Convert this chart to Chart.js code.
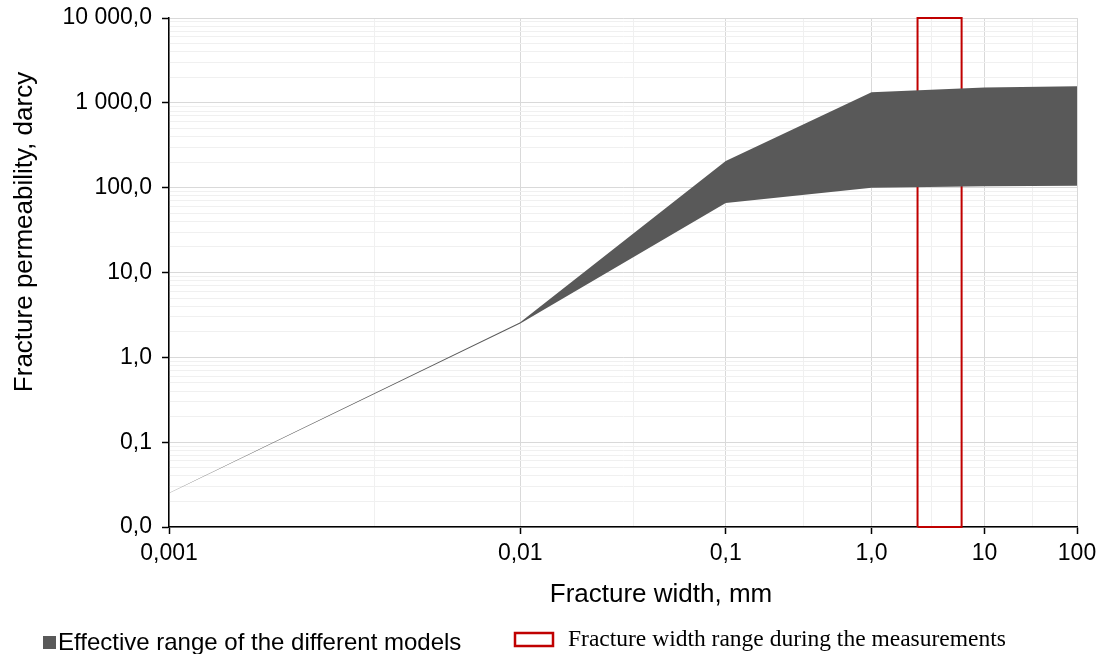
<!DOCTYPE html>
<html>
<head>
<meta charset="utf-8">
<title>Fracture permeability</title>
<script src="https://cdn.jsdelivr.net/npm/chart.js@4.4.0/dist/chart.umd.min.js"></script>
<style>
	html, body { margin: 0; padding: 0; background: #ffffff; }
	#wrap { width: 1105px; height: 654px; }
</style>
</head>
<body>
<div id="wrap"><canvas id="permChart" width="1105" height="654"></canvas></div>
<script>
// Fracture width (mm) and the permeability envelope of the models (darcy)
const widthsMm = [0.001, 0.01, 0.1, 1, 10, 100];
const permUpper = [0.0252, 2.6, 206, 1330, 1520, 1570];
const permLower = [0.025, 2.5, 66, 100, 104, 105];

// Fracture width range during the measurements (mm)
const measuredWidth = [2.4, 6.0];

// Axis labels
const xTickLabels = ["0,001", "0,01", "0,1", "1,0", "10", "100"];
const yTickLabels = ["0,0", "0,1", "1,0", "10,0", "100,0", "1 000,0", "10 000,0"];

const yMin = 0.01;
const yMax = 10000;

const SANS = '"Liberation Sans", Arial, sans-serif';
const SERIF = '"Liberation Serif", "Times New Roman", serif';

/**
 * The width axis is a log axis over the decade number (1 = 0,001 mm ... 6 = 100 mm).
 */
function toAxis(w) {
	return Math.log10(w) + 4;
}

function nearInt(v) {
	return Math.abs(v - Math.round(v)) < 1e-6;
}

function isMajorY(v) {
	return nearInt(Math.log10(v));
}

const lowerPts = widthsMm.map((w, i) => ({ x: toAxis(w), y: permLower[i] }));
const upperPts = widthsMm.map((w, i) => ({ x: toAxis(w), y: permUpper[i] }));

const [wFrom, wTo] = measuredWidth;
const rectPts = [
	{ x: toAxis(wFrom), y: yMin },
	{ x: toAxis(wFrom), y: yMax },
	{ x: toAxis(wTo), y: yMax },
	{ x: toAxis(wTo), y: yMin },
	{ x: toAxis(wFrom), y: yMin },
];

// Axis titles and the legend, drawn once the chart is done
const extraText = {
	id: "extraText",
	afterDraw(chart) {
		const ctx = chart.ctx;
		ctx.save();
		ctx.fillStyle = "#000000";
		ctx.textBaseline = "alphabetic";

		// titles
		ctx.font = "26px " + SANS;
		ctx.textAlign = "center";
		ctx.fillText("Fracture width, mm", 661, 602);
		ctx.save();
		ctx.translate(32, 232);
		ctx.rotate(-Math.PI / 2);
		ctx.fillText("Fracture permeability, darcy", 0, 0);
		ctx.restore();

		// legend: model range
		ctx.fillStyle = "#595959";
		ctx.fillRect(43, 636, 13, 13);
		ctx.fillStyle = "#000000";
		ctx.textAlign = "left";
		ctx.font = "24px " + SANS;
		ctx.fillText("Effective range of the different models", 58, 650);

		// legend: measured width range
		ctx.strokeStyle = "#c00000";
		ctx.lineWidth = 2.5;
		ctx.strokeRect(515, 633, 38, 13);
		ctx.font = "23.5px " + SERIF;
		ctx.fillText("Fracture width range during the measurements", 568, 646);
		ctx.restore();
	},
};

document.addEventListener("DOMContentLoaded", function () {
	const el = document.getElementById("permChart");
	new Chart(el, {
		type: "line",
		data: {
			datasets: [
				{
					label: "lower",
					data: lowerPts,
					borderWidth: 0,
					pointRadius: 0,
					fill: false,
				},
				{
					label: "Effective range of the different models",
					data: upperPts,
					borderWidth: 0,
					pointRadius: 0,
					backgroundColor: "#595959",
					fill: "-1",
				},
				{
					label: "Fracture width range during the measurements",
					data: rectPts,
					borderColor: "#c00000",
					borderWidth: 2,
					borderJoinStyle: "miter",
					pointRadius: 0,
					fill: false,
					clip: false,
				},
			],
		},
		options: {
			responsive: false,
			animation: false,
			devicePixelRatio: 1,
			layout: {
				padding: { top: 18, right: 28, bottom: 45, left: 0 },
			},
			plugins: {
				legend: { display: false },
				tooltip: { enabled: false },
			},
			scales: {
				x: {
					type: "logarithmic",
					min: 1,
					max: 6,
					afterBuildTicks: function (scale) {
						const ticks = [];
						for (let v = 1; v <= 6; v += 0.5) ticks.push({ value: v });
						scale.ticks = ticks;
					},
					afterFit: function (scale) {
						scale.height = 82;
					},
					ticks: {
						autoSkip: false,
						maxRotation: 0,
						padding: 6,
						color: "#000000",
						font: { family: SANS, size: 23 },
						callback: function (value) {
							return nearInt(value) ? xTickLabels[Math.round(value) - 1] : "";
						},
					},
					grid: {
						color: (c) => (c.tick && nearInt(c.tick.value) ? "#d9d9d9" : "#f0f0f0"),
						lineWidth: 1,
						tickLength: 7,
						tickWidth: 1.5,
						tickColor: (c) => (c.tick && nearInt(c.tick.value) ? "#000000" : "rgba(0,0,0,0)"),
					},
					border: { color: "#000000", width: 1.5 },
				},
				y: {
					type: "logarithmic",
					min: yMin,
					max: yMax,
					afterBuildTicks: function (scale) {
						const ticks = [];
						for (let e = -2; e < 4; e++) {
							for (let m = 1; m <= 9; m++) ticks.push({ value: m * Math.pow(10, e) });
						}
						ticks.push({ value: yMax });
						scale.ticks = ticks;
					},
					afterFit: function (scale) {
						scale.width = 169;
						// the top label may stick out above the plot
						scale.paddingTop = 0;
						scale.paddingBottom = 0;
					},
					ticks: {
						autoSkip: false,
						padding: 10,
						color: "#000000",
						font: { family: SANS, size: 23 },
						callback: function (value) {
							if (!isMajorY(value)) return "";
							return yTickLabels[Math.round(Math.log10(value)) + 2];
						},
					},
					grid: {
						color: (c) => (c.tick && isMajorY(c.tick.value) ? "#d9d9d9" : "#f0f0f0"),
						lineWidth: 1,
						tickLength: 7,
						tickWidth: 1.5,
						tickColor: (c) => (c.tick && isMajorY(c.tick.value) ? "#000000" : "rgba(0,0,0,0)"),
					},
					border: { color: "#000000", width: 1.5 },
				},
			},
		},
		plugins: [extraText],
	});
});
</script>
</body>
</html>
